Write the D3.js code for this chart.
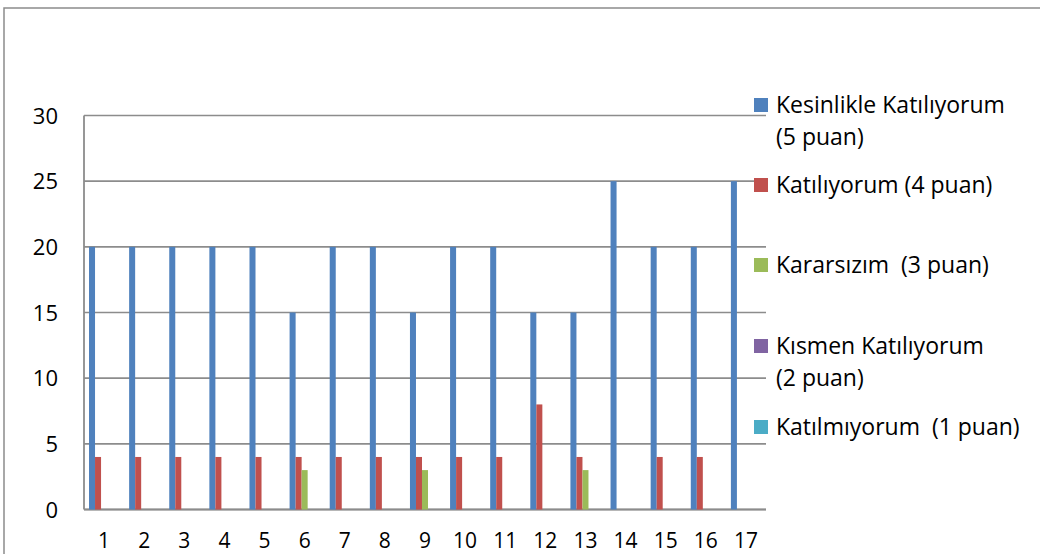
<!DOCTYPE html>
<html><head><meta charset="utf-8">
<script src="https://cdn.jsdelivr.net/npm/d3@7"></script>
<style>body{margin:0;background:#fff}svg{display:block}text{font-family:"Open Sans",sans-serif;fill:#000;white-space:pre}</style>
</head><body>
<svg id="c" width="1040" height="554"></svg>
<script>
const categories = ["1","2","3","4","5","6","7","8","9","10","11","12","13","14","15","16","17"];
const seriesNames = ["Kesinlikle Katılıyorum (5 puan)","Katılıyorum (4 puan)","Kararsızım  (3 puan)","Kısmen Katılıyorum (2 puan)","Katılmıyorum  (1 puan)"];
const legendLines = [["Kesinlikle Katılıyorum","(5 puan)"],["Katılıyorum (4 puan)"],["Kararsızım  (3 puan)"],["Kısmen Katılıyorum","(2 puan)"],["Katılmıyorum  (1 puan)"]];
const colors = ["#4F81BD","#C0504D","#9BBB59","#8064A2","#4BACC6"];
const kesinlikle = [20,20,20,20,20,15,20,20,15,20,20,15,15,25,20,20,25];
const katiliyorum = [4,4,4,4,4,4,4,4,4,4,4,8,4,0,4,4,0];
const kararsizim = [0,0,0,0,0,3,0,0,3,0,0,0,3,0,0,0,0];
const kismen = [0,0,0,0,0,0,0,0,0,0,0,0,0,0,0,0,0];
const katilmiyorum = [0,0,0,0,0,0,0,0,0,0,0,0,0,0,0,0,0];
const yTicks = [0,5,10,15,20,25,30];
const values = [kesinlikle, katiliyorum, kararsizim, kismen, katilmiyorum];

const svg = d3.select("#c");
const L = 84, R = 766, T = 115.5, B = 509.5;
const grey = "#8c8c8c";

// outer frame
svg.append("rect").attr("x",4).attr("y",8).attr("width",1100).attr("height",700)
  .attr("fill","none").attr("stroke",grey).attr("stroke-width",1.5);

const x0 = d3.scaleBand().domain(categories).range([L, R]).padding(0);
const x1 = d3.scaleBand().domain(d3.range(5)).range([x0.bandwidth()*0.125, x0.bandwidth()*0.875]);
const y = d3.scaleLinear().domain([0,30]).range([B, T]);

// gridlines
svg.append("g").selectAll("line").data(yTicks).join("line")
  .attr("x1",L).attr("x2",R).attr("y1",d=>y(d)).attr("y2",d=>y(d))
  .attr("stroke",grey).attr("stroke-width",1.6);
// left axis
svg.append("line").attr("x1",L).attr("x2",L).attr("y1",T).attr("y2",B)
  .attr("stroke",grey).attr("stroke-width",1.8);
// bottom axis
svg.append("line").attr("x1",L).attr("x2",R).attr("y1",B).attr("y2",B)
  .attr("stroke",grey).attr("stroke-width",2);

// y labels
svg.append("g").selectAll("text").data(yTicks).join("text")
  .attr("x",58).attr("y",d=>y(d)+8).attr("text-anchor","end")
  .attr("font-size",22).text(d=>d);

// x labels
svg.append("g").selectAll("text").data(categories).join("text")
  .attr("x",d=>x0(d)+x0.bandwidth()/2).attr("y",548).attr("text-anchor","middle")
  .attr("font-size",21).text(d=>d);

// bars
values.forEach((arr,si)=>{
  svg.append("g").selectAll("rect").data(arr.map((v,i)=>({v,c:categories[i]})).filter(d=>d.v>0)).join("rect")
    .attr("x",d=>x0(d.c)+x1(si)).attr("width",x1.bandwidth())
    .attr("y",d=>y(d.v)).attr("height",d=>B-y(d.v))
    .attr("fill",colors[si]);
});

// legend
const legTops = [98,178,258,339,420];
const lg = svg.append("g");
legendLines.forEach((lines,i)=>{
  lg.append("rect").attr("x",754).attr("y",legTops[i]).attr("width",14).attr("height",14).attr("fill",colors[i]);
  lines.forEach((t,j)=>{
    lg.append("text").attr("x",776).attr("y",legTops[i]+15+j*32).attr("font-size",23).text(t);
  });
});
</script>
</body></html>
